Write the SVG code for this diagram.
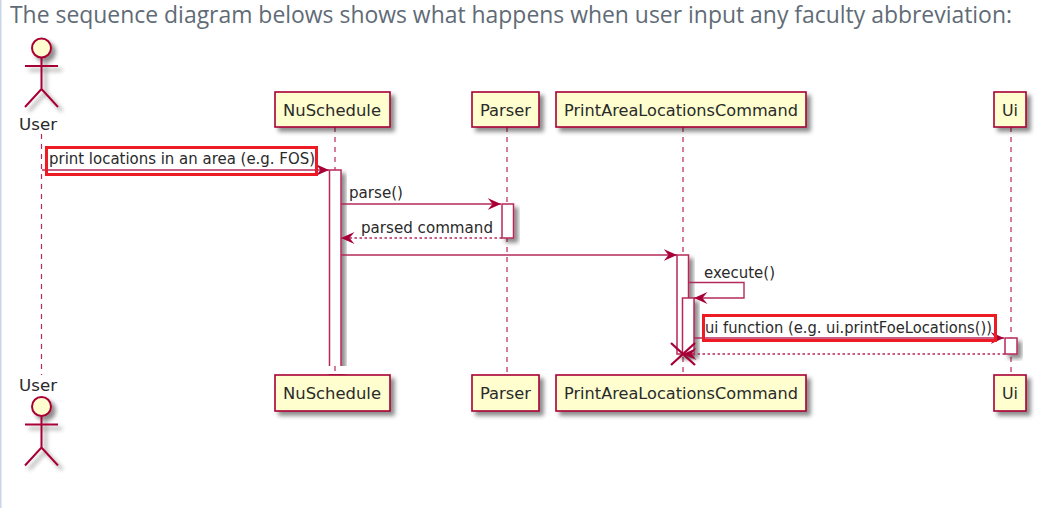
<svg xmlns="http://www.w3.org/2000/svg" width="1045" height="508" viewBox="0 0 1045 508">
<style>
.t{font-family:"DejaVu Sans",sans-serif;font-size:15px;fill:#2a2a2a}
.title{font-family:"Open Sans",sans-serif;font-size:23.500px;fill:#5f6b76}
.box{fill:#fefece;stroke:#a80036;stroke-width:1.600;filter:url(#s)}
.life{stroke:#b8275a;stroke-width:1.200;stroke-dasharray:5 5;fill:none}
.act{fill:#fff;stroke:#b8275a;stroke-width:1.500;filter:url(#s)}
.msg{stroke:#b52a5c;stroke-width:1.400;fill:none}
.dash{stroke-dasharray:2.500 2.500}
.red{fill:none;stroke:#ed1c24;stroke-width:3}
</style>
<defs>
<filter id="s" x="-40%" y="-30%" width="190%" height="170%"><feDropShadow dx="4" dy="4" stdDeviation="2" flood-color="#000" flood-opacity="0.45"/></filter>
<marker id="f" markerUnits="userSpaceOnUse" markerWidth="15" markerHeight="13" refX="13.500" refY="6" orient="auto"><path d="M0 0L13.500 6L0 12L5 6Z" fill="#a80036"/></marker>
<g id="actor-shape" fill="none" stroke="#a80036" stroke-width="2"><circle cx="41.500" cy="48" r="9.500" fill="#fefece" filter="url(#s)"/><path d="M41.500 58V89M25 66H58M25 107L41.500 89L58 107" filter="url(#s)"/></g>
</defs>
<rect width="1045" height="508" fill="#fff"/>
<rect x="0" y="0" width="1.500" height="508" fill="#c9d6e8"/>
<text class="title" x="10" y="23" textLength="1002" lengthAdjust="spacingAndGlyphs">The sequence diagram belows shows what happens when user input any faculty abbreviation:</text>
<g id="lifelines">
<path class="life" d="M41.500 134V375M335 127V375M507 127V375M683 127V375M1011 127V375"/>
</g>
<g id="activations">
<rect class="act" x="329.500" y="170" width="11.500" height="205"/>
<rect x="324" y="366" width="26" height="8" fill="#fff"/>
<path class="life" d="M335 366V375"/>
<rect class="act" x="502" y="204" width="11.500" height="34"/>
<rect class="act" x="677" y="255" width="11.500" height="99"/>
<rect class="act" x="682.500" y="298" width="11.500" height="56"/>
<rect class="act" x="1005" y="338" width="12" height="16"/>
</g>
<g id="connectors">
<path class="msg" d="M42 170H329" marker-end="url(#f)"/>
<path class="msg" d="M341 204H501" marker-end="url(#f)"/>
<path class="msg dash" d="M502 238H341" marker-end="url(#f)"/>
<path class="msg" d="M341 255H677" marker-end="url(#f)"/>
<path class="msg" d="M688.500 282.500H744V298H694" marker-end="url(#f)"/>
<path class="msg" d="M694 338H1004" marker-end="url(#f)"/>
<path class="msg dash" d="M1005 354H683" marker-end="url(#f)"/>
<path d="M671 343L695 365M695 343L671 365" stroke="#a80036" stroke-width="2.300" fill="none"/>
</g>
<g id="node-user-top"><use href="#actor-shape"/><text class="t" x="19" y="129.500" textLength="38" lengthAdjust="spacingAndGlyphs">User</text></g>
<g id="node-nuschedule-top"><rect class="box" x="275" y="92" width="115" height="35"/><text class="t" x="283" y="115.500" textLength="98" lengthAdjust="spacingAndGlyphs">NuSchedule</text></g>
<g id="node-parser-top"><rect class="box" x="472" y="92" width="67" height="35"/><text class="t" x="480" y="115.500" textLength="51" lengthAdjust="spacingAndGlyphs">Parser</text></g>
<g id="node-command-top"><rect class="box" x="556" y="92" width="250" height="35"/><text class="t" x="564" y="115.500" textLength="234" lengthAdjust="spacingAndGlyphs">PrintAreaLocationsCommand</text></g>
<g id="node-ui-top"><rect class="box" x="994" y="92" width="32" height="35"/><text class="t" x="1002" y="115.500" textLength="16" lengthAdjust="spacingAndGlyphs">Ui</text></g>
<g id="node-user-bottom"><use href="#actor-shape" y="358.500"/><text class="t" x="19" y="390.500" textLength="38" lengthAdjust="spacingAndGlyphs">User</text></g>
<g id="node-nuschedule-bottom"><rect class="box" x="275" y="375" width="115" height="36"/><text class="t" x="283" y="398.500" textLength="98" lengthAdjust="spacingAndGlyphs">NuSchedule</text></g>
<g id="node-parser-bottom"><rect class="box" x="472" y="375" width="67" height="36"/><text class="t" x="480" y="398.500" textLength="51" lengthAdjust="spacingAndGlyphs">Parser</text></g>
<g id="node-command-bottom"><rect class="box" x="556" y="375" width="250" height="36"/><text class="t" x="564" y="398.500" textLength="234" lengthAdjust="spacingAndGlyphs">PrintAreaLocationsCommand</text></g>
<g id="node-ui-bottom"><rect class="box" x="994" y="375" width="32" height="36"/><text class="t" x="1002" y="398.500" textLength="16" lengthAdjust="spacingAndGlyphs">Ui</text></g>
<g id="labels">
<text class="t" x="49" y="163.500" textLength="266" lengthAdjust="spacingAndGlyphs">print locations in an area (e.g. FOS)</text>
<text class="t" x="349" y="197.500" textLength="54" lengthAdjust="spacingAndGlyphs">parse()</text>
<text class="t" x="361" y="232.500" textLength="132" lengthAdjust="spacingAndGlyphs">parsed command</text>
<text class="t" x="704" y="277.500" textLength="71" lengthAdjust="spacingAndGlyphs">execute()</text>
<text class="t" x="705" y="333" textLength="287" lengthAdjust="spacingAndGlyphs">ui function (e.g. ui.printFoeLocations())</text>
</g>
<g id="highlights">
<rect class="red" x="46.500" y="147.500" width="270" height="27"/>
<rect class="red" x="703.500" y="315.500" width="292" height="25"/>
</g>
</svg>
